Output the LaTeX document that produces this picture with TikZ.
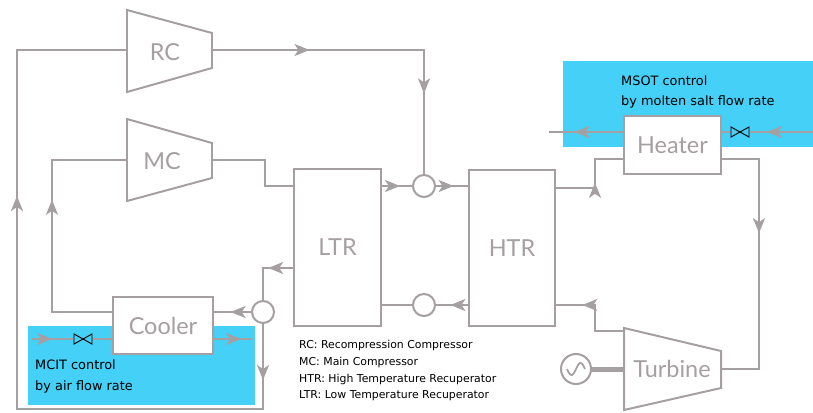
\documentclass[tikz,border=0pt]{standalone}
\usepackage{fontspec}
\setmainfont{DejaVu Sans}
\newfontfamily\unitfont{Lato}
\usetikzlibrary{positioning, calc, arrows.meta, decorations.markings}
\definecolor{pipegray}{HTML}{A69FA1}
\definecolor{ctrlblue}{HTML}{45D0F8}
\tikzset{
  pipe/.style={draw=pipegray, line width=1.7pt},
  flow/.style={pipe, postaction={decorate, decoration={markings,
      mark=at position #1 with {\arrow[pipegray]{Stealth[length=0.45cm, width=0.36cm, inset=0.12cm]}}}}},
  unitbox/.style={pipe, fill=white, rectangle, inner sep=0pt, text=pipegray, font=\unitfont\fontsize{20}{20}\selectfont},
  unitname/.style={inner sep=0pt, text=pipegray, font=\unitfont\fontsize{20}{20}\selectfont},
  mixer/.style={pipe, fill=white, circle, inner sep=0pt, minimum size=0.66cm},
  ctrl/.style={fill=ctrlblue},
  note/.style={inner sep=0pt, anchor=base west, text=black, font=\fontsize{#1}{#1}\selectfont},
  valve/.pic={\draw[black, fill=ctrlblue, line width=0.8pt] (-9,-5) -- (9,5) -- (9,-5) -- (-9,5) -- cycle;}
}
\begin{document}
\begin{tikzpicture}[x=0.03cm, y=-0.03cm]
\useasboundingbox (0,0) rectangle (813,412);

% control zones
\fill[ctrl] (28,326) rectangle (255,405);
\fill[ctrl] (563,61) rectangle (813,147);

% free ends
\coordinate (airIn) at (32,339);
\coordinate (airOut) at (252,339);
\coordinate (saltIn) at (813,132);
\coordinate (saltOut) at (549,132);

% machines
\draw[pipe] (127,10) -- (212,33) -- (212,68) -- (127,92) -- cycle;
\draw[pipe] (127,119) -- (212,143) -- (212,178) -- (127,201) -- cycle;
\draw[pipe] (624,328) -- (721,351) -- (721,388) -- (624,410) -- cycle;
\node[unitname] (RC) at (165,52) {RC};
\node[unitname] (MC) at (162,161) {MC};
\node[unitname] (Turbine) at (672,369) {Turbine};
\coordinate (RCin) at (127,50);
\coordinate (RCout) at (212,50);
\coordinate (MCin) at (127,160);
\coordinate (MCout) at (212,160);
\coordinate (TurbineIn) at (624,331);
\coordinate (TurbineOut) at (721,369);
\coordinate (TurbineShaft) at (624,369);

\node[unitbox, minimum width=87*0.03cm, minimum height=157*0.03cm] (LTR) at (337.5,247.5) {LTR};
\node[unitbox, minimum width=86*0.03cm, minimum height=156*0.03cm] (HTR) at (512,248) {HTR};
\node[mixer] (mixTop) at (424,186) {};
\node[mixer] (mixBot) at (424,305) {};
\node[mixer] (mixCool) at (263,312) {};
\node[pipe, circle, inner sep=0pt, minimum size=0.9cm] (gen) at (576,369) {};

% secondary streams, behind the boxes
\draw[flow=0.25] (airIn) -- (113,339);
\draw[flow=0.72] (213,339) -- (airOut);
\draw[flow=0.5] (saltIn) -- (721,132);
\draw[flow=0.66] (624,132) -- (saltOut);

\node[unitbox, minimum width=100*0.03cm, minimum height=57*0.03cm] (Cooler) at (163,325.5) {Cooler};
\node[unitbox, minimum width=97*0.03cm, minimum height=58*0.03cm] (Heater) at (672.5,145) {Heater};
\pic at (83,339) {valve};
\pic at (740,132) {valve};

% main loop
\draw[flow=0.29, flow=0.76] (RCout) -| (mixTop.north);
\draw[pipe] (MCout) -- (265,160) |- (LTR.west|-mixTop);
\draw[flow=0.6] (LTR.east|-mixTop) -- (mixTop.west);
\draw[flow=0.55] (mixTop.east) -- (HTR.west|-mixTop);
\draw[flow=0.46] (HTR.east|-0,188) -| (595,159) -- (Heater.west|-0,159);
\draw[flow=0.39] (Heater.east|-0,159) -| (759,369) -- (TurbineOut);
\draw[flow=0.72] (TurbineIn) -| (595,305) -- (HTR.east|-mixBot);
\draw[flow=0.55] (HTR.west|-mixBot) -- (mixBot.east);
\draw[pipe] (mixBot.west) -- (LTR.east|-mixBot);
\draw[flow=0.4] (LTR.west|-0,268) -| (mixCool.north);
\draw[flow=0.55] (mixCool.west) -- (Cooler.east|-mixCool);
\draw[flow=0.6] (Cooler.west|-mixCool) -| (52,160) -- (MCin);
\draw[flow=0.07, flow=0.68] (mixCool.south) |- (17,409) -- (17,50) -- (RCin);
\draw[draw=pipegray, line width=0.15cm] (gen.east) -- (TurbineShaft);
\draw[pipegray, line width=1.5pt, domain=-9:9, smooth, samples=30, variable=\x] plot ({576+\x},{369-6*sin(\x*20)});

% notes
\node[note=11] (mcitA) at (35,369) {MCIT control};
\node[note=11] (mcitB) at (35,390) {by air flow rate};
\node[note=11] (msotA) at (621,85) {MSOT control};
\node[note=11] (msotB) at (621,105) {by molten salt flow rate};
\node[note=9.3] (keyRC) at (299,348) {RC: Recompression Compressor};
\node[note=9.3] (keyMC) at (299,365) {MC: Main Compressor};
\node[note=9.3] (keyHTR) at (299,382) {HTR: High Temperature Recuperator};
\node[note=9.3] (keyLTR) at (299,398) {LTR: Low Temperature Recuperator};
\end{tikzpicture}
\end{document}
